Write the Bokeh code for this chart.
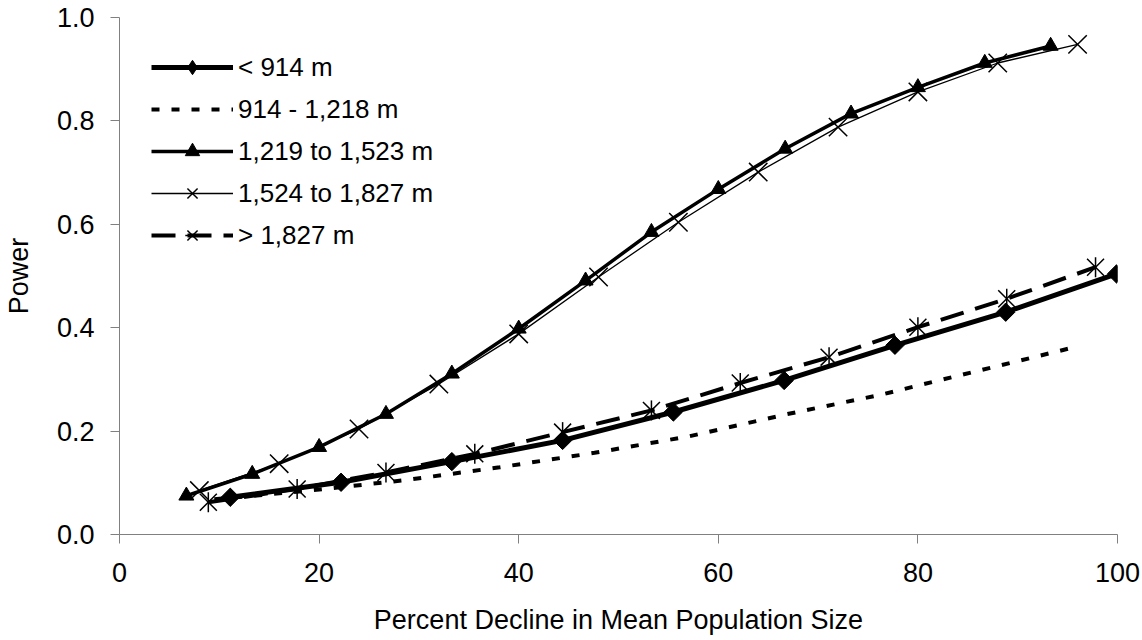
import math
from bokeh.plotting import figure
from bokeh.models import Range1d, FixedTicker, PrintfTickFormatter, Legend, LegendItem
from bokeh.embed import file_html
from bokeh.resources import INLINE

# ---- data ----
x_lt914 = [11.1, 22.2, 33.3, 44.4, 55.5, 66.6, 77.7, 88.8, 99.9]
y_lt914 = [0.072, 0.101, 0.141, 0.182, 0.237, 0.298, 0.366, 0.430, 0.504]

x_914_1218 = [9.5, 19.0, 28.6, 38.1, 47.6, 57.1, 66.7, 76.2, 85.7, 95.2]
y_914_1218 = [0.068, 0.085, 0.105, 0.130, 0.158, 0.190, 0.232, 0.270, 0.315, 0.360]

x_1219_1523 = [6.7, 13.3, 20.0, 26.7, 33.3, 40.0, 46.7, 53.3, 60.0, 66.7, 73.3, 80.0, 86.7, 93.3]
y_1219_1523 = [0.075, 0.117, 0.169, 0.233, 0.311, 0.398, 0.491, 0.585, 0.668, 0.746, 0.814, 0.865, 0.912, 0.945]

x_1524_1827 = [8, 16, 24, 32, 40, 48, 56, 64, 72, 80, 88, 96]
y_1524_1827 = [0.085, 0.137, 0.204, 0.291, 0.388, 0.498, 0.604, 0.701, 0.788, 0.856, 0.912, 0.948]

x_gt1827 = [8.9, 17.8, 26.7, 35.6, 44.4, 53.3, 62.2, 71.1, 80.0, 88.9, 97.8]
y_gt1827 = [0.0625, 0.088, 0.120, 0.156, 0.198, 0.240, 0.293, 0.343, 0.401, 0.456, 0.517]

labels = ["< 914 m", "914 - 1,218 m", "1,219 to 1,523 m", "1,524 to 1,827 m", "> 1,827 m"]
x_ticks = [0, 20, 40, 60, 80, 100]
y_ticks = [0.0, 0.2, 0.4, 0.6, 0.8, 1.0]

FONT = "Liberation Sans"
FS_AX = "27px"
FS_LEG = "26px"

p = figure(width=1142, height=640, output_backend="svg", toolbar_location=None,
           x_range=Range1d(0, 100), y_range=Range1d(0, 1.0),
           min_border_left=118, min_border_right=25, min_border_top=17, min_border_bottom=106)
p.background_fill_color = "white"
p.border_fill_color = "white"
p.outline_line_color = None
p.xgrid.grid_line_color = None
p.ygrid.grid_line_color = None

for ax in (p.xaxis[0], p.yaxis[0]):
    ax.axis_line_color = "#808080"
    ax.major_tick_line_color = "#808080"
    ax.major_tick_out = 9
    ax.major_tick_in = 0
    ax.minor_tick_line_color = None
    ax.major_label_text_font = FONT
    ax.major_label_text_font_size = FS_AX
    ax.major_label_text_color = "black"
    ax.axis_label_text_font = FONT
    ax.axis_label_text_font_size = FS_AX
    ax.axis_label_text_font_style = "normal"
    ax.axis_label_text_color = "black"

p.xaxis.ticker = FixedTicker(ticks=x_ticks)
p.yaxis.ticker = FixedTicker(ticks=y_ticks)
p.yaxis.formatter = PrintfTickFormatter(format="%.1f")
p.xaxis.axis_label = "Percent Decline in Mean Population Size"
p.yaxis.axis_label = "Power"
p.xaxis.major_label_standoff = 19
p.xaxis.axis_label_standoff = 20
p.yaxis.major_label_standoff = 16
p.yaxis.axis_label_standoff = 20

# series 1: thick solid with diamonds
l1 = p.line(x_lt914, y_lt914, line_color="black", line_width=5)
m1leg = p.scatter(x_lt914, y_lt914, marker="diamond", size=17,
                  fill_color="black", line_color="black")
m1 = p.scatter(x_lt914, y_lt914, marker="square", angle=math.pi / 4, size=13,
               fill_color="black", line_color="black")
# series 2: dotted, no markers
l2 = p.line(x_914_1218, y_914_1218, line_color="black", line_width=4, line_dash="8 12")
# series 3: solid with triangles
l3 = p.line(x_1219_1523, y_1219_1523, line_color="black", line_width=3.5)
m3 = p.scatter(x_1219_1523, y_1219_1523, marker="triangle", size=15,
               fill_color="black", line_color="black")
# series 4: thin with x
l4 = p.line(x_1524_1827, y_1524_1827, line_color="black", line_width=1.3)
m4 = p.scatter(x_1524_1827, y_1524_1827, marker="x", size=26, line_color="black", line_width=1.5)
# series 5: long dash with asterisk (x + vertical bar)
l5 = p.line(x_gt1827, y_gt1827, line_color="black", line_width=4, line_dash="24 12")
m5a = p.scatter(x_gt1827, y_gt1827, marker="x", size=24, line_color="black", line_width=1.5)
m5b = p.scatter(x_gt1827, y_gt1827, marker="dash", angle=math.pi / 2, size=20,
                line_color="black", line_width=1.5)

legend = Legend(items=[
    LegendItem(label=labels[0], renderers=[l1, m1leg]),
    LegendItem(label=labels[1], renderers=[l2]),
    LegendItem(label=labels[2], renderers=[l3, m3]),
    LegendItem(label=labels[3], renderers=[l4, m4]),
    LegendItem(label=labels[4], renderers=[l5, m5a, m5b]),
], location=(32, 281))
legend.margin = 0
legend.padding = 0
legend.spacing = 6
legend.glyph_width = 82
legend.glyph_height = 36
legend.label_height = 36
legend.label_standoff = 5
legend.border_line_color = None
legend.background_fill_alpha = 0
legend.label_text_font = FONT
legend.label_text_font_size = FS_LEG
legend.label_text_color = "black"
p.add_layout(legend, "center")

open("out.html", "w").write(file_html(p, INLINE))
